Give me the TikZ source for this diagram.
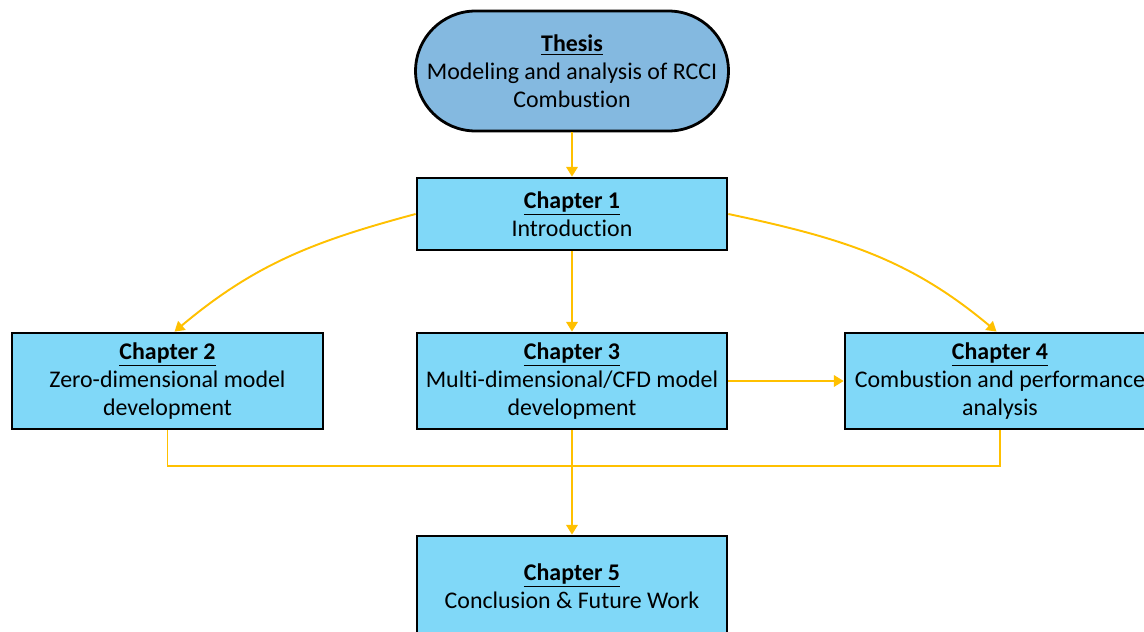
\documentclass[tikz,border=0pt]{standalone}
\usepackage{fontspec}
\setmainfont{Carlito}[Ligatures=NoCommon]
\usetikzlibrary{arrows.meta}
\definecolor{thesisblue}{RGB}{132,185,224}
\definecolor{chapterblue}{RGB}{128,216,248}
\definecolor{linkgold}{RGB}{255,192,0}
\tikzset{
  chapbox/.style={draw=black,line width=1.6pt,fill=chapterblue,minimum width=6.2cm,
    minimum height=1.92cm,align=center,inner sep=0pt,font=\fontsize{13.6}{15.9}\selectfont},
  link/.style={draw=linkgold,line width=1.1pt},
  arr/.style={link,-{Triangle[length=5.5pt,width=6.5pt]}}
}
\newcommand{\chaptitle}[1]{\underline{\textbf{#1}}}
\begin{document}
\begin{tikzpicture}[x=0.02cm,y=0.02cm]
    \clip (0,0) rectangle (1144,-632);
    \node[chapbox,fill=thesisblue,minimum width=6.26cm,minimum height=2.4cm,rounded corners=1.2cm]
        (thesis) at (572,-71) {\chaptitle{Thesis}\\Modeling and analysis of RCCI\\Combustion};
    \node[chapbox,minimum height=1.44cm] (ch1) at (572,-214) {\chaptitle{Chapter 1}\\Introduction};
    \node[chapbox,minimum width=6.22cm] (ch2) at (167.5,-381) {\chaptitle{Chapter 2}\\Zero-dimensional model\\development};
    \node[chapbox] (ch3) at (572,-381) {\chaptitle{Chapter 3}\\Multi-dimensional/CFD model\\development};
    \node[chapbox] (ch4) at (1000,-381) {\chaptitle{Chapter 4}\\Combustion and performance\\analysis};
    \node[chapbox,minimum height=2cm] (ch5) at (572,-586) {\chaptitle{Chapter 5}\\Conclusion \& Future Work};
    \coordinate (jl) at (167.5,-466);
    \coordinate (jr) at (1000,-466);
    \draw[arr] (thesis) -- (ch1);
    \draw[arr] (ch1.west) to[out=195,in=40] ([xshift=4]ch2.north);
    \draw[arr] (ch1.east) to[out=-12,in=140] ([xshift=-2]ch4.north);
    \draw[arr] (ch1) -- (ch3);
    \draw[arr] (ch3) -- (ch4);
    \draw[arr] (ch3) -- (ch5);
    \draw[link] (ch2.south) -- (jl) -- (jr) -- (ch4.south);
\end{tikzpicture}
\end{document}
